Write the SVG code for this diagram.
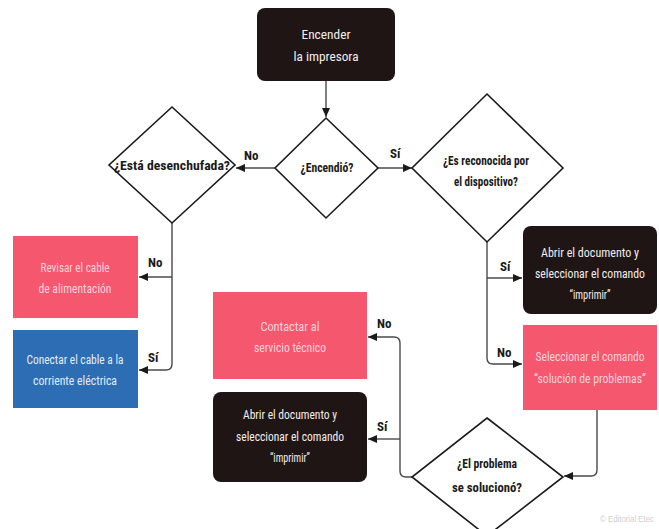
<svg xmlns="http://www.w3.org/2000/svg" width="659" height="529" viewBox="0 0 659 529">
<defs>
<style>
.bg{fill:#ffffff}
.dark{fill:#1f1514}
.pink{fill:#f5576f}
.blue{fill:#2c6db3}
.dia{fill:#ffffff;stroke:#1a1a1a;stroke-width:1.6}
.t{font-family:"Liberation Sans Narrow","Roboto Condensed","Liberation Sans",sans-serif;font-size:13.5px;text-anchor:middle}
.r{font-size:12px}
.tw{fill:#f3eded}
.tp{fill:#fcd3da}
.tb{fill:#e3ecf7}
.d{font-family:"Liberation Sans Narrow","Roboto Condensed","Liberation Sans",sans-serif;font-size:13px;font-weight:bold;fill:#1a1a1a;text-anchor:middle}
.lbl{font-family:"Liberation Sans Narrow","Roboto Condensed","Liberation Sans",sans-serif;font-size:13px;font-weight:bold;fill:#1a1a1a}
.c{fill:none;stroke:#4a4a4a;stroke-width:1.4}
.wm{font-family:"Liberation Sans Narrow","Liberation Sans",sans-serif;font-size:8.5px;fill:#cfcfcf}
</style>
<marker id="ah" markerUnits="userSpaceOnUse" markerWidth="10" markerHeight="10" refX="9" refY="5" orient="auto">
<path d="M0,1 L9,5 L0,9 Z" fill="#1a1a1a"/>
</marker>
</defs>
<rect class="bg" x="0" y="0" width="659" height="529"/>

<g id="connectors">
<path class="c" d="M326,81 V117" marker-end="url(#ah)"/>
<path class="c" d="M275,168 H236" marker-end="url(#ah)"/>
<path class="c" d="M378,168 H412" marker-end="url(#ah)"/>
<path class="c" d="M172,223 V364 Q172,370 166,370 H139" marker-end="url(#ah)"/>
<path class="c" d="M172,277 H139" marker-end="url(#ah)"/>
<path class="c" d="M487,242 V358 Q487,364 493,364 H522" marker-end="url(#ah)"/>
<path class="c" d="M487,278 H522" marker-end="url(#ah)"/>
<path class="c" d="M597,410 V470 Q597,476 591,476 H564" marker-end="url(#ah)"/>
<path class="c" d="M412,477 H406 Q400,477 400,471 V343 Q400,337 394,337 H368" marker-end="url(#ah)"/>
<path class="c" d="M400,439 H368" marker-end="url(#ah)"/>
<text class="lbl" x="244" y="160">No</text>
<text class="lbl" x="390" y="158">Sí</text>
<text class="lbl" x="148" y="267">No</text>
<text class="lbl" x="148" y="362">Sí</text>
<text class="lbl" x="500" y="271">Sí</text>
<text class="lbl" x="497" y="357">No</text>
<text class="lbl" x="377" y="328">No</text>
<text class="lbl" x="377" y="431">Sí</text>
</g>

<g id="n-encender">
<rect class="dark" x="257" y="8" width="138" height="73" rx="8"/>
<text class="t tw" x="326" y="39" textLength="49" lengthAdjust="spacingAndGlyphs">Encender</text>
<text class="t tw" x="326" y="61" textLength="65" lengthAdjust="spacingAndGlyphs">la impresora</text>
</g>

<g id="n-encendio">
<polygon class="dia" points="326,118 378,168 326,218 275,168"/>
<text class="d" x="327" y="172" textLength="53" lengthAdjust="spacingAndGlyphs">¿Encendió?</text>
</g>

<g id="n-desenchufada">
<polygon class="dia" points="172,107 235,165 172,223 109,165"/>
<text class="d" x="172" y="170" textLength="116" lengthAdjust="spacingAndGlyphs">¿Está desenchufada?</text>
</g>

<g id="n-reconocida">
<polygon class="dia" points="487,94 563,168 487,242 412,168"/>
<text class="d" x="486" y="165" textLength="86" lengthAdjust="spacingAndGlyphs">¿Es reconocida por</text>
<text class="d" x="486" y="186" textLength="64" lengthAdjust="spacingAndGlyphs">el dispositivo?</text>
</g>

<g id="n-revisar">
<rect class="pink" x="13" y="236" width="125" height="82"/>
<text class="t tp" x="75" y="272" textLength="69" lengthAdjust="spacingAndGlyphs">Revisar el cable</text>
<text class="t tp" x="75" y="293" textLength="73" lengthAdjust="spacingAndGlyphs">de alimentación</text>
</g>

<g id="n-conectar">
<rect class="blue" x="13" y="330" width="125" height="78"/>
<text class="t tb" x="75" y="364" textLength="97" lengthAdjust="spacingAndGlyphs">Conectar el cable a la</text>
<text class="t tb" x="75" y="385" textLength="84" lengthAdjust="spacingAndGlyphs">corriente eléctrica</text>
</g>

<g id="n-abrir-1">
<rect class="dark" x="523" y="226" width="134" height="88" rx="8"/>
<text class="t r tw" x="590" y="257" textLength="98" lengthAdjust="spacingAndGlyphs">Abrir el documento y</text>
<text class="t r tw" x="590" y="278" textLength="110" lengthAdjust="spacingAndGlyphs">seleccionar el comando</text>
<text class="t r tw" x="590" y="299" textLength="41" lengthAdjust="spacingAndGlyphs">“imprimir”</text>
</g>

<g id="n-seleccionar">
<rect class="pink" x="523" y="325" width="134" height="85"/>
<text class="t r tp" x="590" y="361" textLength="109" lengthAdjust="spacingAndGlyphs">Seleccionar el comando</text>
<text class="t r tp" x="590" y="383" textLength="112" lengthAdjust="spacingAndGlyphs">“solución de problemas”</text>
</g>

<g id="n-contactar">
<rect class="pink" x="213" y="292" width="154" height="87"/>
<text class="t tp" x="290" y="331" textLength="59" lengthAdjust="spacingAndGlyphs">Contactar al</text>
<text class="t tp" x="290" y="352" textLength="72" lengthAdjust="spacingAndGlyphs">servicio técnico</text>
</g>

<g id="n-abrir-2">
<rect class="dark" x="213" y="392" width="154" height="90" rx="8"/>
<text class="t tw" x="290" y="419" textLength="94" lengthAdjust="spacingAndGlyphs">Abrir el documento y</text>
<text class="t tw" x="290" y="441" textLength="108" lengthAdjust="spacingAndGlyphs">seleccionar el comando</text>
<text class="t tw" x="290" y="462" textLength="40" lengthAdjust="spacingAndGlyphs">“imprimir”</text>
</g>

<g id="n-solucion">
<polygon class="dia" points="487,418 563,477 487,536 412,477"/>
<text class="d" x="487" y="468" textLength="60" lengthAdjust="spacingAndGlyphs">¿El problema</text>
<text class="d" x="487" y="492" textLength="70" lengthAdjust="spacingAndGlyphs">se solucionó?</text>
</g>

<text class="wm" x="600" y="522" textLength="54" lengthAdjust="spacingAndGlyphs">© Editorial Etec</text>
</svg>
